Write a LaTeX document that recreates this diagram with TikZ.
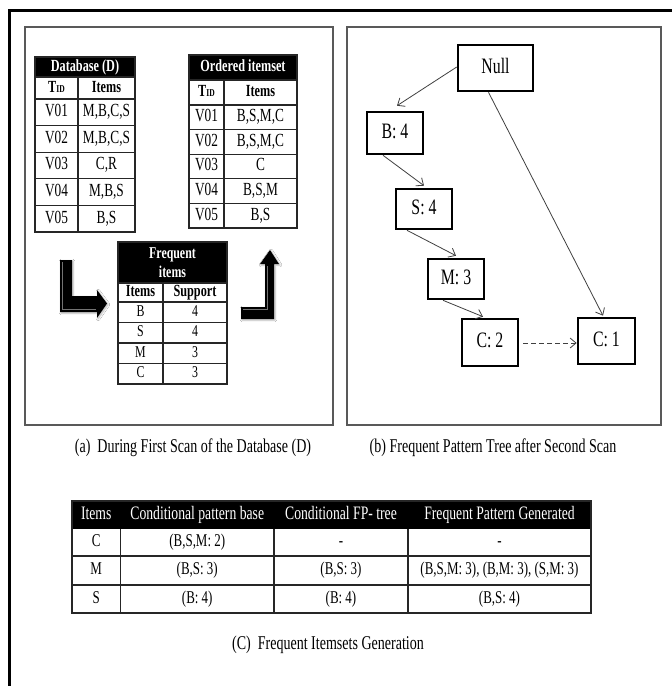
\documentclass[tikz,border=0pt]{standalone}
\usepackage{fontspec}
\setmainfont[FakeStretch=0.72]{Liberation Serif}
\usetikzlibrary{arrows.meta,shadows.blur}

\tikzset{
  outerframe/.style={line width=3pt, draw=black},
  panel/.style={draw=black!65, line width=1.3pt},
  grid/.style={draw=black!85, line width=1.1pt},
  headfill/.style={fill=black},
  headtxt/.style={text=white, inner sep=0pt, text height=11.5pt, text depth=3.5pt,
    font=\fontsize{17}{18}\selectfont\bfseries},
  headtwo/.style={text=white, inner sep=0pt, align=center,
    font=\fontsize{16.5}{19}\selectfont\bfseries},
  colhead/.style={inner sep=0pt, text height=11.5pt, text depth=3.5pt,
    font=\fontsize{17}{18}\selectfont\bfseries},
  celltxt/.style={inner sep=0pt, text height=12.5pt, text depth=3.7pt,
    font=\fontsize{18.5}{19}\selectfont},
  smallcell/.style={inner sep=0pt, text height=11.2pt, text depth=3.3pt,
    font=\fontsize{16.5}{17}\selectfont},
  bigarrow/.style={fill=black, blur shadow={shadow blur steps=6, shadow xshift=1pt, shadow yshift=-1pt, shadow opacity=30}},
  bevel/.style={draw=black!55, line width=1pt, line join=miter},
  treenode/.style={draw=black, line width=2.6pt, inner sep=0pt,
    text height=15pt, text depth=4.4pt, font=\fontsize{22}{23}\selectfont},
  treeedge/.style={draw=black!75, line width=0.8pt,
    -{Straight Barb[length=6pt,width=10pt]}},
  caption/.style={inner sep=0pt, text height=13.2pt, text depth=3.9pt,
    font=\fontsize{19.5}{20}\selectfont},
  fptxt/.style={inner sep=0pt, text height=12.2pt, text depth=3.6pt,
    font=\fontsize{18}{19}\selectfont},
  fphead/.style={inner sep=0pt, text=white, text height=12.9pt, text depth=3.8pt,
    font=\fontsize{19}{20}\selectfont},
}

\newcommand{\tidlabel}{\textbf{T{\fontsize{10.5}{11}\selectfont ID}}}

\begin{document}
\begin{tikzpicture}[x=1pt,y=-1pt]
\useasboundingbox (0,0) rectangle (672,686);
\fill[white] (0,0) rectangle (672,686);

% outer frame, open to the right and bottom
\draw[outerframe] (9.5,686) -- (9.5,10.5) -- (672,10.5);

% the two upper panels
\draw[panel] (25,27) rectangle (333,425);
\draw[panel] (347,27) rectangle (661,425);

% ---------- Database (D) ----------
\fill[headfill] (35,57) rectangle (135,77);
\draw[grid] (35,57) rectangle (135,232);
\draw[grid] (35,77) -- (135,77);
\draw[grid] (78,77) -- (78,232);
\foreach \yy in {99,125.6,152.2,178.8,205.4} \draw[grid] (35,\yy) -- (135,\yy);
\node[headtxt] (dbhead) at (85,67) {Database (D)};
\node[colhead] (dbtid) at (56.5,88) {\tidlabel};
\node[colhead] (dbitems) at (106.5,88) {Items};
\foreach \i/\t/\s in {1/V01/{M,B,C,S},2/V02/{M,B,C,S},3/V03/{C,R},4/V04/{M,B,S},5/V05/{B,S}} {
  \node[celltxt] (db-\i-a) at (56.5,{99+26.6*(\i-0.5)}) {\t};
  \node[celltxt] (db-\i-b) at (106.5,{99+26.6*(\i-0.5)}) {\s};
}

% ---------- Ordered itemset ----------
\fill[headfill] (189,55) rectangle (297,80);
\draw[grid] (189,55) rectangle (297,228);
\draw[grid] (189,80) -- (297,80);
\draw[grid] (224,80) -- (224,228);
\foreach \yy in {105,129.6,154.2,178.8,203.4} \draw[grid] (189,\yy) -- (297,\yy);
\node[headtxt] (ordhead) at (243,67.5) {Ordered itemset};
\node[colhead] (ordtid) at (206.5,92.5) {\tidlabel};
\node[colhead] (orditems) at (260.5,92.5) {Items};
\foreach \i/\t/\s in {1/V01/{B,S,M,C},2/V02/{B,S,M,C},3/V03/{C},4/V04/{B,S,M},5/V05/{B,S}} {
  \node[celltxt] (ord-\i-a) at (206.5,{105+24.6*(\i-0.5)}) {\t};
  \node[celltxt] (ord-\i-b) at (260.5,{105+24.6*(\i-0.5)}) {\s};
}

% ---------- Frequent items ----------
\fill[headfill] (118,242) rectangle (227,283);
\draw[grid] (118,242) rectangle (227,384);
\draw[grid] (118,283) -- (227,283);
\draw[grid] (163,283) -- (163,384);
\foreach \yy in {302,322.5,343,363.5} \draw[grid] (118,\yy) -- (227,\yy);
\node[headtwo] (fihead) at (172.5,262.5) {Frequent\\items};
\node[colhead] (fiitems) at (140.5,292.5) {Items};
\node[colhead] (fisupp) at (195,292.5) {Support};
\foreach \i/\t/\s in {1/B/4,2/S/4,3/M/3,4/C/3} {
  \node[smallcell] (fi-\i-a) at (140.5,{302+20.5*(\i-0.5)}) {\t};
  \node[smallcell] (fi-\i-b) at (195,{302+20.5*(\i-0.5)}) {\s};
}

% ---------- bent block arrows with a soft bevel ----------
\fill[bigarrow] (60,260) -- (72,260) -- (72,296) -- (97,296) -- (97,290)
  -- (107,303.5) -- (97,318) -- (97,312) -- (60,312) -- cycle;
\draw[bevel] (62,262) -- (62,309.5) -- (96,309.5);
\fill[bigarrow] (241,307) -- (265,307) -- (265,264) -- (260,264) -- (270,250)
  -- (279,264) -- (274,264) -- (274,319) -- (241,319) -- cycle;
\draw[bevel] (243,309.5) -- (267,309.5) -- (267,266);

% ---------- FP tree ----------
\node[treenode, minimum width=75pt, minimum height=46pt] (null) at (495.5,68) {Null};
\node[treenode, minimum width=56pt, minimum height=42pt] (b4) at (395,133) {B: 4};
\node[treenode, minimum width=56pt, minimum height=40pt] (s4) at (424,209) {S: 4};
\node[treenode, minimum width=56pt, minimum height=40pt] (m3) at (456,279) {M: 3};
\node[treenode, minimum width=56pt, minimum height=47pt] (c2) at (490,342.5) {C: 2};
\node[treenode, minimum width=57pt, minimum height=46pt] (c1) at (606.5,341) {C: 1};

\draw[treeedge] ([yshift=1pt]null.west) -- ([xshift=2pt,yshift=5pt]b4.north);
\draw[treeedge] ([xshift=-12pt]b4.south) -- ([yshift=2pt]s4.north);
\draw[treeedge] ([xshift=-17pt]s4.south) -- ([yshift=2pt]m3.north);
\draw[treeedge] ([xshift=-13pt]m3.south) -- ([xshift=-7pt,yshift=1pt]c2.north);
\draw[treeedge] ([xshift=-7pt]null.south) -- ([xshift=-3.5pt,yshift=1pt]c1.north);
\draw[treeedge, dash pattern=on 5pt off 3pt] ([xshift=4pt,yshift=-0.5pt]c2.east) -- ([yshift=-0.5pt]c2.east -| c1.west);

% ---------- captions ----------
\node[caption] (capa) at (193,448) {(a)\ \ During First Scan of the Database (D)};
\node[caption] (capb) at (493,448) {(b) Frequent Pattern Tree after Second Scan};

% ---------- conditional pattern table ----------
\fill[headfill] (72,501) rectangle (591,529);
\draw[grid] (72,501) rectangle (591,613);
\foreach \yy in {556,585} \draw[grid] (72,\yy) -- (591,\yy);
\foreach \xx in {120.5,274,408} \draw[grid] (\xx,529) -- (\xx,613);
\node[fphead] (fph1) at (96.25,515) {Items};
\node[fphead] (fph2) at (197.25,515) {Conditional pattern base};
\node[fphead] (fph3) at (341,515) {Conditional FP- tree};
\node[fphead] (fph4) at (499.5,515) {Frequent Pattern Generated};
\foreach \i/\a/\b/\c/\d/\y in {1/C/{(B,S,M: 2)}/-/-/542.5,
    2/M/{(B,S: 3)}/{(B,S: 3)}/{(B,S,M: 3), (B,M: 3), (S,M: 3)}/570.5,
    3/S/{(B: 4)}/{(B: 4)}/{(B,S: 4)}/599} {
  \node[fptxt] (fp-\i-a) at (96.25,\y) {\a};
  \node[fptxt] (fp-\i-b) at (197.25,\y) {\b};
  \node[fptxt] (fp-\i-c) at (341,\y) {\c};
  \node[fptxt] (fp-\i-d) at (499.5,\y) {\d};
}

\node[caption] (capc) at (328,645) {(C)\ \ Frequent Itemsets Generation};
\end{tikzpicture}
\end{document}
